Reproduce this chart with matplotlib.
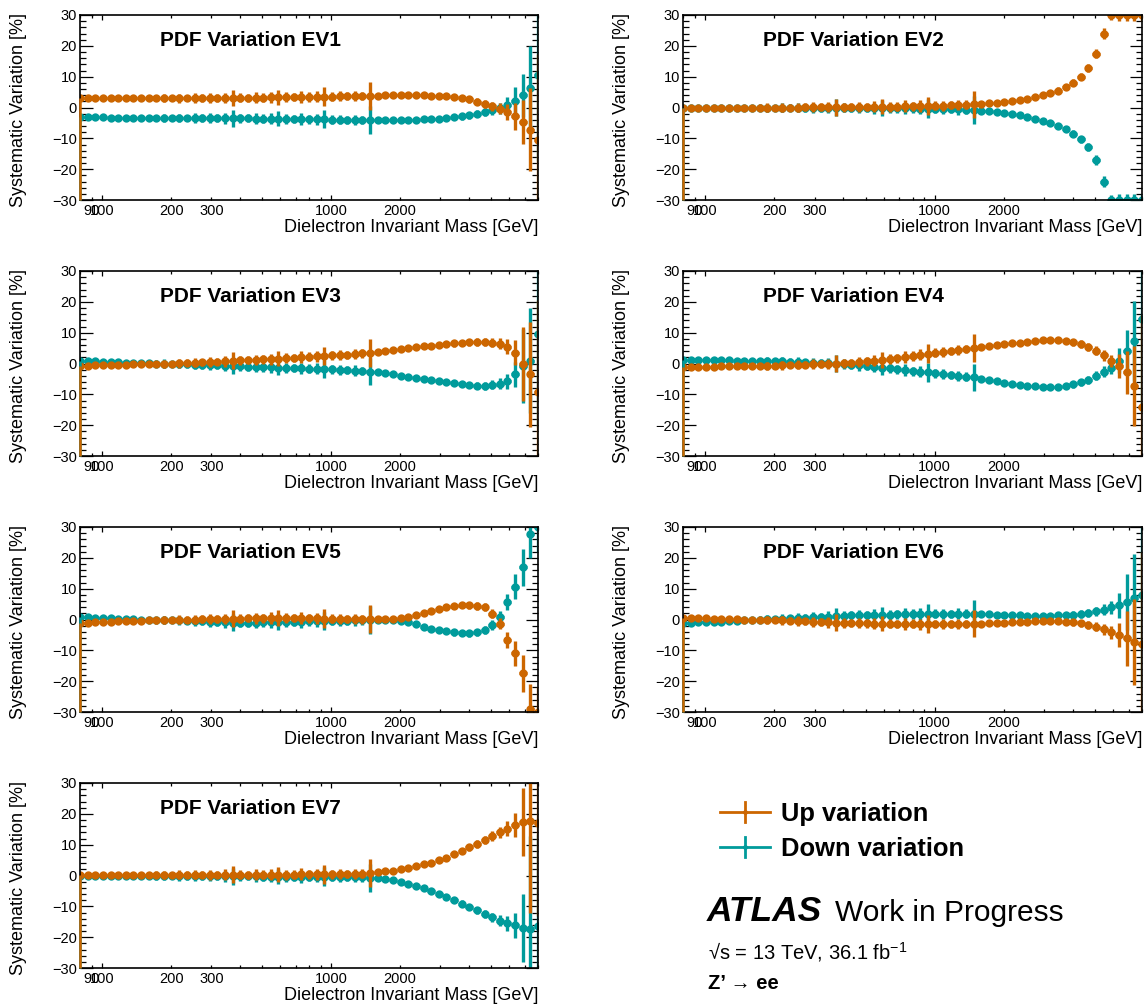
import numpy as np
import matplotlib
matplotlib.use("Agg")
import matplotlib.pyplot as plt

plt.rcParams["font.family"] = ["Liberation Sans", "DejaVu Sans"]
plt.rcParams["mathtext.fontset"] = "custom"
plt.rcParams["mathtext.rm"] = "Liberation Sans"
plt.rcParams["mathtext.it"] = "Liberation Sans:italic"
plt.rcParams["mathtext.bf"] = "Liberation Sans:bold"

# ---- binning (log-uniform mass points) ----
MASS_MIN, MASS_MAX = 80.0, 8000.0
N_POINTS = 61

# ---- relative variations [%] per eigenvector ----
EV1_UP = [3.0, 3.0, 3.0, 3.0, 3.0, 3.0, 3.0, 3.0, 3.0, 3.0,
          3.0, 3.0, 3.0, 3.0, 3.1, 3.1, 3.1, 3.1, 3.1, 3.1,
          3.1, 3.2, 3.2, 3.2, 3.2, 3.3, 3.3, 3.3, 3.4, 3.4,
          3.4, 3.5, 3.5, 3.5, 3.6, 3.6, 3.7, 3.7, 3.8, 3.8,
          3.9, 3.9, 3.9, 3.9, 3.9, 3.9, 3.8, 3.8, 3.7, 3.5,
          3.0, 2.6, 1.9, 1.2, 0.4, -0.4, -1.5, -2.9, -4.7, -7.2, -10.5]
EV1_DOWN = [-3.2, -3.2, -3.2, -3.2, -3.3, -3.3, -3.3, -3.3, -3.3, -3.3,
            -3.3, -3.3, -3.3, -3.4, -3.4, -3.4, -3.4, -3.4, -3.4, -3.5,
            -3.5, -3.5, -3.5, -3.6, -3.6, -3.6, -3.6, -3.7, -3.7, -3.7,
            -3.8, -3.8, -3.8, -3.9, -3.9, -3.9, -4.0, -4.0, -4.0, -4.0,
            -4.0, -4.0, -4.0, -3.9, -3.9, -3.8, -3.7, -3.6, -3.4, -3.2,
            -2.9, -2.5, -2.0, -1.4, -0.8, -0.2, 0.9, 2.2, 3.9, 6.3, 10.6]

EV2_UP = [0.0, 0.0, 0.0, 0.0, 0.0, 0.0, 0.0, 0.0, 0.0, 0.0,
          0.0, 0.0, 0.0, 0.0, 0.0, 0.0, 0.1, 0.1, 0.1, 0.1,
          0.1, 0.1, 0.2, 0.2, 0.2, 0.2, 0.3, 0.3, 0.3, 0.4,
          0.4, 0.5, 0.5, 0.6, 0.6, 0.7, 0.8, 0.9, 1.0, 1.2,
          1.4, 1.6, 1.8, 2.1, 2.4, 2.8, 3.3, 3.9, 4.6, 5.5,
          6.6, 8.0, 10.0, 12.8, 17.5, 24.0, 30.0, 30.0, 30.0, 30.0, 30.0]
EV2_DOWN = [0.0, 0.0, 0.0, 0.0, 0.0, 0.0, 0.0, 0.0, 0.0, 0.0,
            -0.1, -0.1, -0.1, -0.1, -0.1, -0.1, -0.1, -0.1, -0.1, -0.1,
            -0.1, -0.1, -0.2, -0.2, -0.2, -0.2, -0.2, -0.3, -0.3, -0.3,
            -0.3, -0.4, -0.4, -0.4, -0.5, -0.5, -0.6, -0.7, -0.8, -1.0,
            -1.2, -1.4, -1.7, -2.0, -2.5, -3.0, -3.6, -4.3, -5.1, -6.0,
            -7.1, -8.5, -10.3, -12.8, -17.0, -24.0, -30.0, -30.0, -30.0, -30.0, -30.0]

EV3_UP = [-0.8, -0.7, -0.6, -0.5, -0.5, -0.4, -0.4, -0.3, -0.2, -0.2,
          -0.1, -0.1, 0.0, 0.1, 0.2, 0.3, 0.4, 0.5, 0.6, 0.7,
          0.9, 1.0, 1.1, 1.2, 1.3, 1.4, 1.6, 1.7, 1.8, 2.0,
          2.2, 2.3, 2.5, 2.6, 2.8, 2.9, 3.1, 3.3, 3.5, 3.8,
          4.1, 4.4, 4.7, 5.0, 5.3, 5.6, 5.8, 6.0, 6.3, 6.5,
          6.7, 6.9, 7.0, 7.0, 6.8, 6.4, 5.5, 3.5, 0.0, -3.5, -9.4]
EV3_DOWN = [0.9, 0.8, 0.7, 0.6, 0.5, 0.4, 0.3, 0.2, 0.1, 0.1,
            0.0, 0.0, -0.1, -0.2, -0.3, -0.4, -0.5, -0.6, -0.6, -0.7,
            -0.8, -0.9, -1.0, -1.1, -1.2, -1.2, -1.3, -1.4, -1.5, -1.6,
            -1.7, -1.7, -1.8, -1.9, -2.0, -2.1, -2.3, -2.4, -2.6, -2.9,
            -3.2, -3.5, -3.9, -4.3, -4.7, -5.1, -5.4, -5.7, -6.1, -6.4,
            -6.7, -7.0, -7.2, -7.2, -6.9, -6.5, -5.8, -3.5, -0.8, 0.9, 9.5]

EV4_UP = [-1.1, -1.1, -1.0, -1.0, -1.0, -0.9, -0.9, -0.9, -0.8, -0.8,
          -0.8, -0.7, -0.7, -0.6, -0.5, -0.4, -0.4, -0.3, -0.2, -0.1,
          0.0, 0.1, 0.3, 0.5, 0.7, 0.9, 1.1, 1.4, 1.7, 2.0,
          2.4, 2.8, 3.2, 3.5, 3.8, 4.1, 4.4, 4.7, 5.0, 5.3,
          5.6, 5.9, 6.2, 6.5, 6.8, 7.1, 7.3, 7.5, 7.6, 7.6,
          7.3, 6.9, 6.3, 5.3, 4.1, 2.6, 0.9, -0.8, -2.9, -7.2, -14.2]
EV4_DOWN = [1.1, 1.1, 1.1, 1.0, 1.0, 1.0, 1.0, 0.9, 0.9, 0.9,
            0.8, 0.8, 0.7, 0.7, 0.6, 0.5, 0.4, 0.3, 0.2, 0.1,
            0.0, -0.2, -0.4, -0.6, -0.8, -1.0, -1.3, -1.6, -1.9, -2.2,
            -2.5, -2.7, -2.9, -3.2, -3.5, -3.8, -4.0, -4.3, -4.5, -5.0,
            -5.4, -5.8, -6.2, -6.5, -6.9, -7.2, -7.4, -7.6, -7.6, -7.5,
            -7.2, -6.7, -6.1, -5.2, -4.0, -2.7, -1.3, 0.9, 3.9, 7.3, 14.3]

EV5_UP = [-1.1, -1.0, -0.9, -0.8, -0.7, -0.6, -0.6, -0.5, -0.4, -0.3,
          -0.3, -0.2, -0.2, -0.1, -0.1, 0.0, 0.1, 0.1, 0.2, 0.2,
          0.3, 0.3, 0.4, 0.4, 0.4, 0.5, 0.5, 0.5, 0.5, 0.5,
          0.4, 0.4, 0.3, 0.3, 0.3, 0.2, 0.2, 0.1, 0.1, 0.1,
          0.2, 0.3, 0.6, 0.9, 1.5, 2.2, 2.9, 3.5, 3.9, 4.3,
          4.6, 4.6, 4.4, 3.9, 1.9, -1.3, -6.7, -11.0, -17.5, -29.0, -30.0]
EV5_DOWN = [0.9, 0.7, 0.6, 0.5, 0.4, 0.3, 0.2, 0.1, 0.0, -0.1,
            -0.1, -0.2, -0.3, -0.3, -0.4, -0.5, -0.6, -0.7, -0.8, -0.9,
            -1.0, -1.0, -1.0, -1.0, -0.9, -0.9, -0.8, -0.8, -0.7, -0.7,
            -0.6, -0.6, -0.5, -0.5, -0.4, -0.4, -0.3, -0.3, -0.2, -0.2,
            -0.2, -0.2, -0.5, -0.8, -1.5, -2.4, -3.1, -3.5, -3.8, -4.2,
            -4.5, -4.5, -4.2, -3.5, -1.8, 0.9, 5.7, 10.6, 17.0, 27.8, 30.0]

EV6_UP = [0.5, 0.5, 0.4, 0.4, 0.3, 0.3, 0.2, 0.1, 0.0, 0.0,
          -0.1, -0.1, -0.2, -0.3, -0.4, -0.5, -0.6, -0.7, -0.8, -0.9,
          -1.0, -1.1, -1.1, -1.2, -1.2, -1.3, -1.3, -1.3, -1.4, -1.4,
          -1.4, -1.5, -1.5, -1.5, -1.5, -1.4, -1.4, -1.4, -1.3, -1.3,
          -1.2, -1.1, -1.0, -0.9, -0.8, -0.7, -0.6, -0.6, -0.5, -0.6,
          -0.7, -0.9, -1.2, -1.7, -2.3, -3.2, -4.2, -5.0, -6.1, -7.2, -8.0]
EV6_DOWN = [-1.1, -1.0, -0.9, -0.9, -0.8, -0.7, -0.6, -0.4, -0.2, -0.1,
            0.0, 0.1, 0.2, 0.3, 0.4, 0.5, 0.6, 0.7, 0.8, 0.9,
            1.1, 1.2, 1.3, 1.4, 1.4, 1.5, 1.6, 1.6, 1.7, 1.7,
            1.8, 1.8, 1.9, 1.9, 1.9, 1.9, 1.9, 1.9, 1.9, 1.8,
            1.7, 1.6, 1.5, 1.4, 1.3, 1.2, 1.2, 1.1, 1.2, 1.3,
            1.4, 1.6, 1.8, 2.1, 2.6, 3.2, 3.9, 4.6, 5.7, 7.1, 7.9]

EV7_UP = [0.3, 0.3, 0.3, 0.3, 0.3, 0.3, 0.3, 0.3, 0.3, 0.3,
          0.3, 0.3, 0.3, 0.3, 0.3, 0.3, 0.3, 0.3, 0.3, 0.3,
          0.3, 0.3, 0.3, 0.3, 0.3, 0.3, 0.3, 0.3, 0.3, 0.4,
          0.4, 0.4, 0.4, 0.4, 0.4, 0.5, 0.5, 0.6, 0.8, 1.0,
          1.3, 1.6, 2.0, 2.5, 3.0, 3.6, 4.2, 5.0, 5.8, 6.9,
          8.0, 9.1, 10.2, 11.5, 12.8, 14.0, 15.2, 16.4, 17.3, 17.8, 16.9]
EV7_DOWN = [-0.3, -0.3, -0.3, -0.3, -0.3, -0.3, -0.3, -0.3, -0.3, -0.3,
            -0.3, -0.3, -0.3, -0.3, -0.3, -0.3, -0.3, -0.3, -0.3, -0.3,
            -0.3, -0.3, -0.3, -0.3, -0.4, -0.4, -0.4, -0.4, -0.4, -0.4,
            -0.4, -0.4, -0.4, -0.4, -0.4, -0.5, -0.5, -0.6, -0.7, -0.9,
            -1.2, -1.6, -2.1, -2.7, -3.3, -4.1, -5.0, -5.9, -6.9, -8.0,
            -9.1, -10.2, -11.3, -12.5, -13.6, -14.6, -15.5, -16.2, -16.9, -17.3, -16.4]

# ---- statistical uncertainties [%] ----
ERR_COMMON = [0.6, 0.7, 0.6, 0.8, 0.7, 0.8, 0.7, 0.9, 0.8, 0.9,
              1.0, 1.3, 0.9, 1.4, 1.1, 1.5, 1.2, 1.6, 1.2, 1.7,
              2.7, 1.5, 1.3, 1.7, 1.4, 1.8, 2.5, 1.6, 1.4, 1.9,
              1.5, 1.8, 3.0, 1.4, 1.6, 1.3, 1.7, 1.4, 4.5, 0.9,
              0.7, 0.8, 0.7, 0.8, 0.8, 0.9, 0.8, 0.9, 0.9, 1.0,
              1.0, 1.1, 1.2, 1.3, 1.5, 1.8]
EV1_ERR_TAIL = [2.5, 4.5, 7.0, 13.5, 28.0]
EV2_ERR_TAIL = [1.5, 2.0, 2.0, 2.0, 2.0]
EV3_ERR_TAIL = [2.5, 4.0, 12.0, 17.0, 30.0]
EV4_ERR_TAIL = [2.0, 4.0, 7.0, 13.0, 30.0]
EV5_ERR_TAIL = [2.5, 4.0, 6.0, 8.0, 8.0]
EV6_ERR_TAIL = [2.0, 4.0, 9.0, 14.0, 30.0]
EV7_ERR_TAIL = [2.5, 4.0, 11.0, 30.0, 30.0]

TITLES = ["PDF Variation EV1", "PDF Variation EV2", "PDF Variation EV3",
          "PDF Variation EV4", "PDF Variation EV5", "PDF Variation EV6",
          "PDF Variation EV7"]
UPS = [EV1_UP, EV2_UP, EV3_UP, EV4_UP, EV5_UP, EV6_UP, EV7_UP]
DOWNS = [EV1_DOWN, EV2_DOWN, EV3_DOWN, EV4_DOWN, EV5_DOWN, EV6_DOWN, EV7_DOWN]
TAILS = [EV1_ERR_TAIL, EV2_ERR_TAIL, EV3_ERR_TAIL, EV4_ERR_TAIL,
         EV5_ERR_TAIL, EV6_ERR_TAIL, EV7_ERR_TAIL]

X_MINOR = [80, 90, 200, 300, 400, 500, 600, 700, 800, 900,
           2000, 3000, 4000, 5000, 6000, 7000, 8000]
X_MINOR_LABELS = {90: "90", 200: "200", 300: "300", 2000: "2000"}
Y_MAJOR = [-30, -20, -10, 0, 10, 20, 30]

ORANGE = "#cc6600"
TEAL = "#009b9b"

W, H = 1148, 1007
fig = plt.figure(figsize=(W / 100, H / 100), dpi=100)

mass = np.geomspace(MASS_MIN, MASS_MAX, N_POINTS)
half = 10 ** (np.log10(MASS_MAX / MASS_MIN) / (N_POINTS - 1) / 2)
xerr = np.vstack([mass - mass / half, mass * half - mass])

# panel frames in pixels: (left, right) and (top, bottom)
col_x = [(80, 538), (683, 1142)]
row_y = [(15, 200), (271, 456), (527, 712), (783, 968)]


def draw_series(ax, values, err, color, z):
    y = np.clip(np.asarray(values, dtype=float), -30, 30)
    ax.errorbar(mass, y, yerr=err, xerr=xerr, fmt="o", color=color,
                ms=6.0, mew=0, elinewidth=2.4, capsize=0, zorder=z)
    # histogram outline rising from the frame floor at the first bin edge
    ax.plot([MASS_MIN, MASS_MIN], [-30, y[0]], color=color, lw=1.8,
            clip_on=False, zorder=z + 5, solid_capstyle="butt")


for k in range(7):
    r, c = divmod(k, 2)
    x0, x1 = col_x[c]
    t0, t1 = row_y[r]
    ax = fig.add_axes([x0 / W, 1 - t1 / H, (x1 - x0) / W, (t1 - t0) / H])
    err = np.array(ERR_COMMON + TAILS[k])
    draw_series(ax, DOWNS[k], err, TEAL, 3)
    draw_series(ax, UPS[k], err, ORANGE, 4)

    ax.set_xscale("log")
    ax.set_xlim(MASS_MIN, MASS_MAX)
    ax.set_ylim(-30, 30)
    ax.set_xticks([100, 1000], labels=["100", "1000"])
    ax.set_xticks(X_MINOR, labels=[X_MINOR_LABELS.get(v, "") for v in X_MINOR],
                  minor=True)
    ax.set_yticks(Y_MAJOR, labels=[("\u2212%d" % -v) if v < 0 else "%d" % v
                                   for v in Y_MAJOR])
    ax.set_yticks(np.arange(-30, 31, 2), minor=True)
    ax.tick_params(axis="both", which="both", direction="in", top=True,
                   right=True, labelsize=10.5, width=0.9, colors="black")
    ax.tick_params(axis="y", which="major", length=9.0, pad=2.2)
    ax.tick_params(axis="y", which="minor", length=4.5)
    ax.tick_params(axis="x", which="major", length=3.6, pad=3.0)
    ax.tick_params(axis="x", which="minor", length=2.2, pad=3.0)
    for s in ax.spines.values():
        s.set_linewidth(1.2)
        s.set_zorder(6)

    ax.text(0.174, 1 - 26 / 185, TITLES[k], transform=ax.transAxes,
            fontsize=15, fontweight="bold", ha="left", va="center")
    ax.text(1.0, -28 / 185, "Dielectron Invariant Mass [GeV]",
            transform=ax.transAxes, fontsize=13, ha="right", va="center")
    fig.text((x0 - 61) / W, 1 - (t0 - 2) / H, "Systematic Variation [%]",
             rotation=90, fontsize=13, ha="center", va="top")

# ---- legend and labels ----
ov = fig.add_axes([0, 0, 1, 1])
ov.set_xlim(0, W)
ov.set_ylim(H, 0)
ov.axis("off")
for color, y, label in [(ORANGE, 812, "Up variation"),
                        (TEAL, 847, "Down variation")]:
    ov.plot([720, 770], [y, y], color=color, lw=2.0)
    ov.plot([745, 745], [y - 10, y + 10], color=color, lw=2.0)
    ov.plot([745], [y], "o", color=color, ms=3.5, mew=0)
    ov.text(781, y + 8.5, label, fontsize=18.4, fontweight="bold",
            ha="left", va="baseline")

ov.text(707, 921, "ATLAS", fontsize=25.5, fontweight="bold",
        fontstyle="italic", ha="left", va="baseline")
ov.text(835, 921, "Work in Progress", fontsize=21.5, ha="left", va="baseline")
ov.text(708, 959, "\u221as = 13 TeV, 36.1 fb$^{-1}$", fontsize=14.5,
        ha="left", va="baseline")
ov.text(708, 989, "Z\u2019 \u2192 ee", fontsize=14.5, fontweight="bold",
        ha="left", va="baseline")

fig.savefig("out.png", dpi=100)
